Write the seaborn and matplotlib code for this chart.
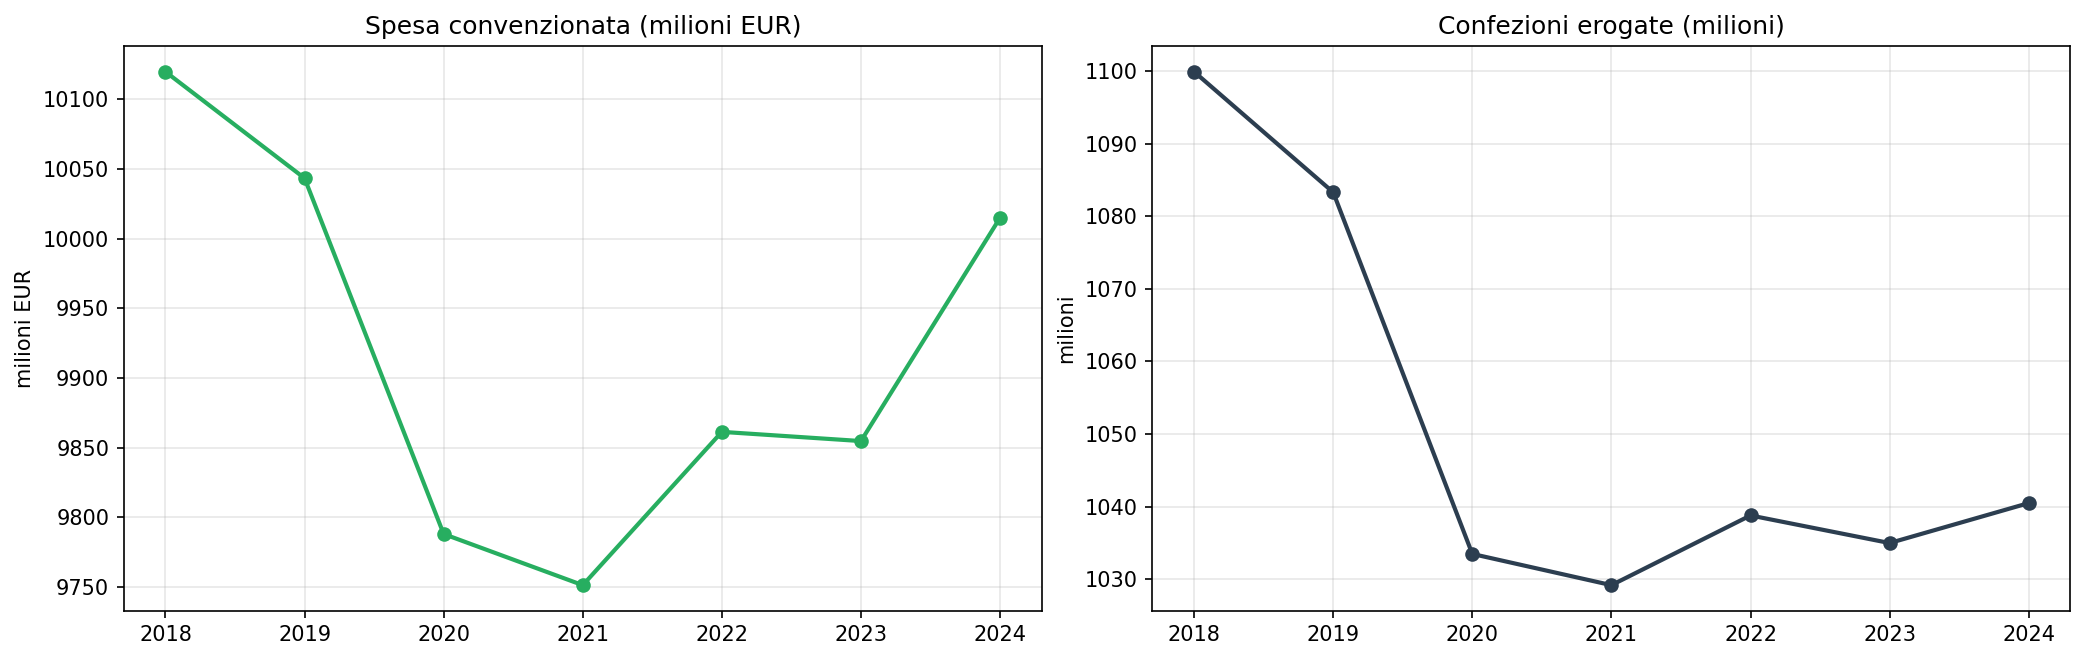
"""spesa convenzionata e confezioni erogate, 2018-2024"""

import seaborn as sns
import pandas as pd
import matplotlib.pyplot as plt

anni = [2018, 2019, 2020, 2021, 2022, 2023, 2024]
spesa = [10119.7, 10043.3, 9788.0, 9751.3, 9861.3, 9854.7, 10014.9]
confezioni = [1099.9, 1083.3, 1033.5, 1029.2, 1038.8, 1035.0, 1040.5]

df = pd.DataFrame({"anno": anni, "spesa": spesa, "confezioni": confezioni})

fig, axes = plt.subplots(1, 2, figsize=(13.9, 4.4), dpi=150)

pannelli = [
    ("spesa", "#27ae60", "Spesa convenzionata (milioni EUR)", "milioni EUR"),
    ("confezioni", "#2c3e50", "Confezioni erogate (milioni)", "milioni"),
]

for ax, (col, colore, titolo, ylab) in zip(axes, pannelli):
    sns.lineplot(data=df, x="anno", y=col, ax=ax, color=colore,
                 marker="o", markersize=7, markeredgewidth=0, linewidth=2)
    ax.set_title(titolo, fontsize=12)
    ax.set_xlabel("")
    ax.set_ylabel(ylab)
    ax.set_xticks(anni)
    ax.grid(True, alpha=0.3)

plt.tight_layout(pad=0.7)
plt.savefig("out.png")
plt.close()
